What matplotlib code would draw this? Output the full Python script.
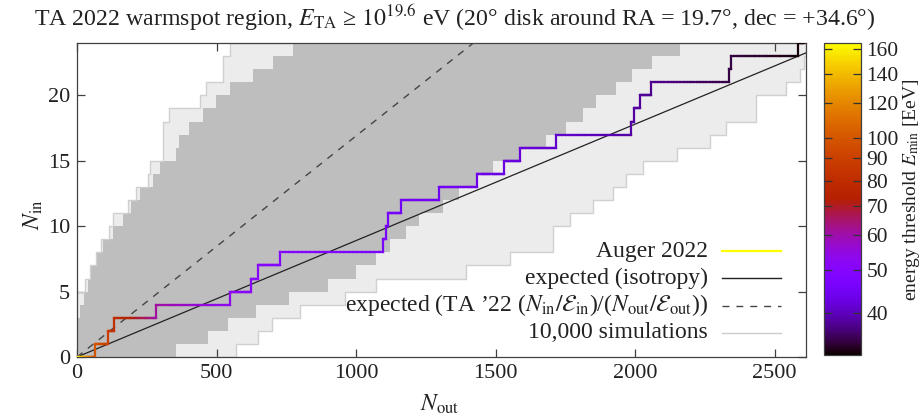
import numpy as np
import matplotlib
matplotlib.use('Agg')
import matplotlib.pyplot as plt
from matplotlib.collections import LineCollection
from matplotlib.colors import LogNorm
from matplotlib.lines import Line2D
from matplotlib.ticker import FixedLocator, NullLocator, FixedFormatter

plt.rcParams['font.family'] = ['Liberation Serif', 'DejaVu Serif']
plt.rcParams['mathtext.fontset'] = 'stix'

# ---------------- data ----------------
# Auger 2022: N_out at which N_in reaches 1..24, plus final N_out
auger_reach_nout = [63, 110, 131, 284, 549, 624, 650, 729, 1096, 1108, 1115, 1162,
                    1297, 1434, 1529, 1588, 1717, 1986, 1995, 2016, 2058, 2336, 2345, 2583]
auger_end_nout = 2605
# energy threshold (EeV) at each vertex: start, each reach point, end
auger_energy = [165, 100, 90, 82, 61, 53, 51, 50.5, 49.5, 46.5, 46.2, 46, 45.5,
                44.5, 43.5, 42.5, 42, 41, 38.5, 38.4, 38.2, 37.5, 34.5, 34.4, 32.5, 32.2]

# simulation band envelopes: N_out at which N_in reaches level 1..24
sim_dense_upper = [0, 0, 0, 10, 25, 38, 51, 69, 93, 128, 164, 194, 224, 272, 296, 355,
                   367, 403, 451, 499, 547, 630, 702, 773]
sim_dense_lower = [355, 470, 540, 640, 760, 900, 1000, 1070, 1120, 1180, 1227, 1310,
                   1370, 1430, 1490, 1586, 1680, 1753, 1812, 1861, 1930, 1990, 2060, 2159]
sim_outer_upper = [0, 0, 0, 0, 0, 30, 48, 69, 87, 116, 128, 182, 212, 254, 260, 308,
                   308, 308, 331, 439, 463, 523, 523, 547]
sim_outer_lower = [570, 650, 700, 800, 960, 1070, 1395, 1550, 1705, 1705, 1765, 1849,
                   1920, 1968, 2028, 2150, 2267, 2327, 2434, 2434, 2540, 2590, 2605, 2611]

slope_isotropy = 0.00890
slope_ta = 0.0169

x_ticks = [0, 500, 1000, 1500, 2000, 2500]
y_ticks = [0, 5, 10, 15, 20]
cbar_ticks = [40, 50, 60, 70, 80, 90, 100, 120, 140, 160]
xmax, ymax = 2612, 24
emin, emax = 32, 165

# ---------------- figure ----------------
W, H = 922, 417
fig = plt.figure(figsize=(W / 100, H / 100), dpi=100)
ax = fig.add_axes([77 / W, 1 - 357 / H, (806 - 77) / W, (357 - 43) / H])
ax.set_xlim(0, xmax)
ax.set_ylim(0, ymax)

# simulation bands
grid = np.unique(np.concatenate([sim_dense_upper, sim_dense_lower, sim_outer_upper,
                                 sim_outer_lower, [0, xmax]])).astype(float)

def level(reach, x):
    return np.searchsorted(np.asarray(reach, float), x, side='right')

ou = level(sim_outer_upper, grid)
ol = level(sim_outer_lower, grid)
du = level(sim_dense_upper, grid)
dl = level(sim_dense_lower, grid)
ax.fill_between(grid, ol, ou, step='post', color='#ececec', lw=0, zorder=1)
ax.fill_between(grid, dl, du, step='post', color='#bebebe', lw=0, zorder=2)
ax.step(grid, ou, where='post', color='#d0d0d0', lw=1.0, zorder=2)
ax.step(grid, ol, where='post', color='#d0d0d0', lw=1.0, zorder=2)

# expectation lines
xs = np.array([0, xmax])
ax.plot(xs, slope_isotropy * xs, color='#222222', lw=0.9, zorder=4)
ax.plot(xs, slope_ta * xs, color='#444444', lw=1.0, ls=(0, (5, 5)), zorder=4)

# Auger staircase coloured by energy threshold
cmap = plt.get_cmap('gnuplot')
norm = LogNorm(emin, emax)
vx = [0] + auger_reach_nout + [auger_end_nout]
segs, cols = [], []
for k in range(len(vx) - 1):
    x0, x1 = vx[k], vx[k + 1]
    e0, e1 = auger_energy[k], auger_energy[k + 1]
    n = 24
    t = np.linspace(0, 1, n + 1)
    xx = x0 + (x1 - x0) * t
    ee = np.exp(np.log(e0) + (np.log(e1) - np.log(e0)) * t)
    for i in range(n):
        segs.append([(xx[i], k), (xx[i + 1], k)])
        cols.append(cmap(norm(0.5 * (ee[i] + ee[i + 1]))))
    if k < len(vx) - 2:
        segs.append([(x1, k), (x1, k + 1)])
        cols.append(cmap(norm(e1)))
lc = LineCollection(segs, colors=cols, linewidths=1.6, zorder=5, capstyle='projecting')
ax.add_collection(lc)

# axes styling
for s in ax.spines.values():
    s.set_color('#404040')
    s.set_linewidth(0.9)
ax.xaxis.set_major_locator(FixedLocator(x_ticks))
ax.yaxis.set_major_locator(FixedLocator(y_ticks))
ax.tick_params(direction='in', length=6, width=0.9, color='#404040',
               top=True, right=True, labelsize=16, labelcolor='#222222')
ax.tick_params(axis='x', pad=5)
ax.tick_params(axis='y', pad=5)
fig.text(440 / W, 1 - 404 / H, r'$N_\mathrm{out}$', ha='center', va='center',
         fontsize=17, color='#222222')
fig.text(33 / W, 1 - 215 / H, r'$N_\mathrm{in}$', ha='center', va='center',
         rotation=90, fontsize=17, color='#222222')

# title
fig.text(455 / W, 1 - 18 / H,
         'TA 2022 warmspot region, $E_\\mathrm{TA}$ ≥ $10^{19.6}$ eV '
         '(20° disk around RA = 19.7°, dec = +34.6°)',
         ha='center', va='center', fontsize=17.2, color='#222222')

# legend (right-aligned labels, samples on the right)
leg_rows = [
    ('Auger 2022', dict(color='#ffff00', lw=1.6, ls='-')),
    ('expected (isotropy)', dict(color='#222222', lw=1.0, ls='-')),
    ('expected (TA ’22 ($N_\\mathrm{in}/\\mathcal{E}_\\mathrm{in}$)/'
     '($N_\\mathrm{out}/\\mathcal{E}_\\mathrm{out}$))', dict(color='#444444', lw=1.0, ls=(0, (5, 5)))),
    ('10,000 simulations', dict(color='#cccccc', lw=1.0, ls='-')),
]
leg_y = [251, 278, 305.5, 332.5]
for (lab, sty), py in zip(leg_rows, leg_y):
    fig.text(708 / W, 1 - py / H, lab, ha='right', va='center', fontsize=17,
             color='#222222')
    fig.add_artist(Line2D([722 / W, 781 / W], [1 - py / H, 1 - py / H],
                          transform=fig.transFigure, **sty))

# colorbar
cax = fig.add_axes([824 / W, 1 - 355 / H, 37 / W, (355 - 42.7) / H])
sm = matplotlib.cm.ScalarMappable(norm=norm, cmap=cmap)
cb = fig.colorbar(sm, cax=cax)
cb.outline.set_edgecolor('#404040')
cb.outline.set_linewidth(0.9)
cax.yaxis.set_major_locator(FixedLocator(cbar_ticks))
cax.yaxis.set_major_formatter(FixedFormatter([str(t) for t in cbar_ticks]))
cax.yaxis.set_minor_locator(NullLocator())
cax.tick_params(which='both', direction='in', length=6, width=0.9, color='#333333',
                left=True, right=True, labelsize=15.5, labelcolor='#222222', pad=4)
fig.text(911 / W, 1 - 190 / H, r'energy threshold $E_\mathrm{min}$ [EeV]',
         rotation=90, ha='center', va='center', fontsize=14, color='#222222')

fig.savefig('out.png', dpi=100)
